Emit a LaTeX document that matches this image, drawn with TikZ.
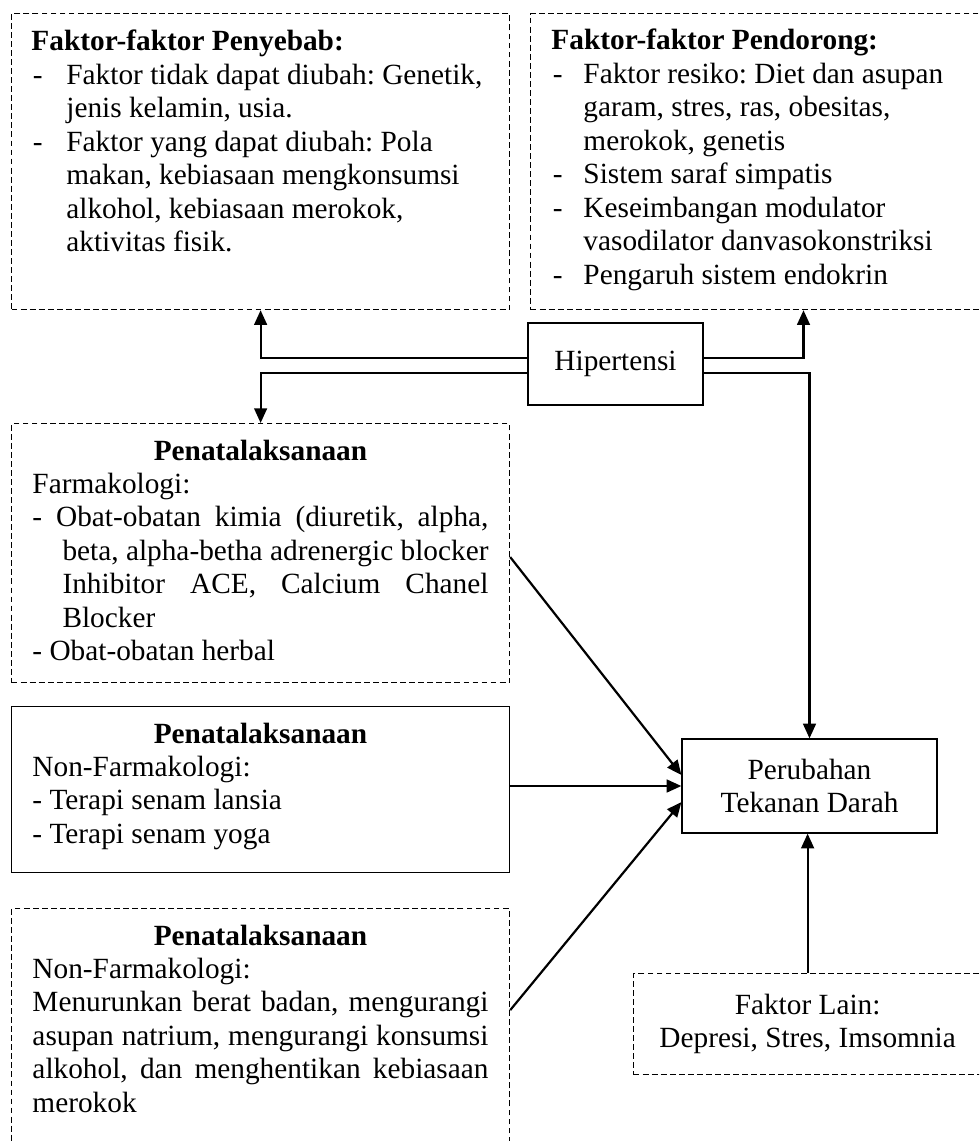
\documentclass[tikz,border=0pt]{standalone}
\usepackage{fontspec}
\setmainfont{Liberation Serif}
\usetikzlibrary{arrows.meta}

\newcommand\pxu{0.4094pt}
% dash item with hanging indent
\newcommand\dashitem[2]{\hangindent=#1\hangafter=1\noindent\makebox[#1][l]{\hspace{0.6pt}-}#2\par}

\begin{document}
\frenchspacing
\begin{tikzpicture}[x=0.4094pt, y=-0.4094pt,
    font=\fontsize{12}{13.7}\selectfont,
    box/.style={draw, line width=0.5pt, inner sep=0pt, anchor=north west},
    dbox/.style={box, dash pattern=on 2.4pt off 1.3pt},
    txt/.style={inner sep=0pt, anchor=base west},
    conn/.style={line width=0.9pt, -{Triangle[length=6pt,width=5.2pt]}}
]
\useasboundingbox (0,0) rectangle (979,1141);
\clip (0,0) rectangle (979,1141);

% boxes
\node[dbox, minimum width=498*\pxu, minimum height=296*\pxu] (penyebab) at (11,13) {};
\node[dbox, minimum width=451*\pxu, minimum height=296*\pxu] (pendorong) at (530,13) {};
\node[box, anchor=center, minimum width=175*\pxu, minimum height=82*\pxu] (hipertensi) at (615.5,364) {Hipertensi};
\node[dbox, minimum width=498*\pxu, minimum height=259*\pxu] (farmakologi) at (11,423) {};
\node[box, minimum width=498*\pxu, minimum height=166*\pxu] (nonfarma) at (11,706) {};
\node[dbox, minimum width=498*\pxu, minimum height=242*\pxu] (gaya) at (11,908) {};
\node[box, anchor=center, minimum width=255*\pxu, minimum height=94*\pxu, align=center] (perubahan) at (809.5,786) {Perubahan\\Tekanan Darah};
\node[dbox, minimum width=348*\pxu, minimum height=101*\pxu, align=center] (faktorlain) at (633,973) {Faktor Lain:\\Depresi, Stres, Imsomnia};

% texts
\node[txt, text width=465*\pxu, align=flush left] (penyebabTxt) at (31,51) {%
\textbf{Faktor-faktor Penyebab:}\par
\dashitem{14.3pt}{Faktor tidak dapat diubah: Genetik,\newline jenis kelamin, usia.}
\dashitem{14.3pt}{Faktor yang dapat diubah: Pola\newline makan, kebiasaan mengkonsumsi\newline alkohol, kebiasaan merokok,\newline aktivitas fisik.}};
\node[txt, text width=420*\pxu, align=flush left] (pendorongTxt) at (551,50) {%
\textbf{Faktor-faktor Pendorong:}\par
\dashitem{13.1pt}{Faktor resiko: Diet dan asupan\newline garam, stres, ras, obesitas,\newline merokok, genetis}
\dashitem{13.1pt}{Sistem saraf simpatis}
\dashitem{13.1pt}{Keseimbangan modulator\newline vasodilator danvasokonstriksi}
\dashitem{13.1pt}{Pengaruh sistem endokrin}};
\node[txt, text width=456*\pxu, align=justify] (farmakologiTxt) at (32,460) {%
{\centering\textbf{Penatalaksanaan}\par}
Farmakologi:\par
\hangindent=12.3pt\hangafter=1\exhyphenpenalty=10000
- Obat-obatan kimia (diuretik, alpha,\linebreak beta, alpha-betha adrenergic blocker\linebreak Inhibitor ACE, Calcium Chanel\linebreak Blocker\par
- Obat-obatan herbal};
\node[txt, text width=456*\pxu, align=flush left] (nonfarmaTxt) at (32,743) {%
{\centering\textbf{Penatalaksanaan}\par}
Non-Farmakologi:\par
- Terapi senam lansia\par
- Terapi senam yoga};
\node[txt, text width=456*\pxu, align=justify] (gayaTxt) at (32,945) {%
{\centering\textbf{Penatalaksanaan}\par}
Non-Farmakologi:\par
Menurunkan berat badan, mengurangi\linebreak asupan natrium, mengurangi konsumsi\linebreak alkohol, dan menghentikan kebiasaan\linebreak merokok};

% connectors
\draw[conn] ([yshift=2.5pt]hipertensi.west) -| (penyebab.south);
\draw[conn] ([yshift=-3.7pt]hipertensi.west) -| (farmakologi.north);
\draw[conn] ([yshift=2.5pt]hipertensi.east) -| ([xshift=19.4pt]pendorong.south);
\draw[conn] ([yshift=-3.7pt]hipertensi.east) -| (perubahan.north);
\draw[conn] ([yshift=-54.9pt]farmakologi.north east) -- ([yshift=4.5pt]perubahan.west);
\draw[conn] (nonfarma.east |- perubahan.west) -- (perubahan.west);
\draw[conn] ([yshift=-41.8pt]gaya.north east) -- ([yshift=-6.6pt]perubahan.west);
\draw[conn] (faktorlain.north) -- (faktorlain.north |- perubahan.south);
\end{tikzpicture}
\end{document}
